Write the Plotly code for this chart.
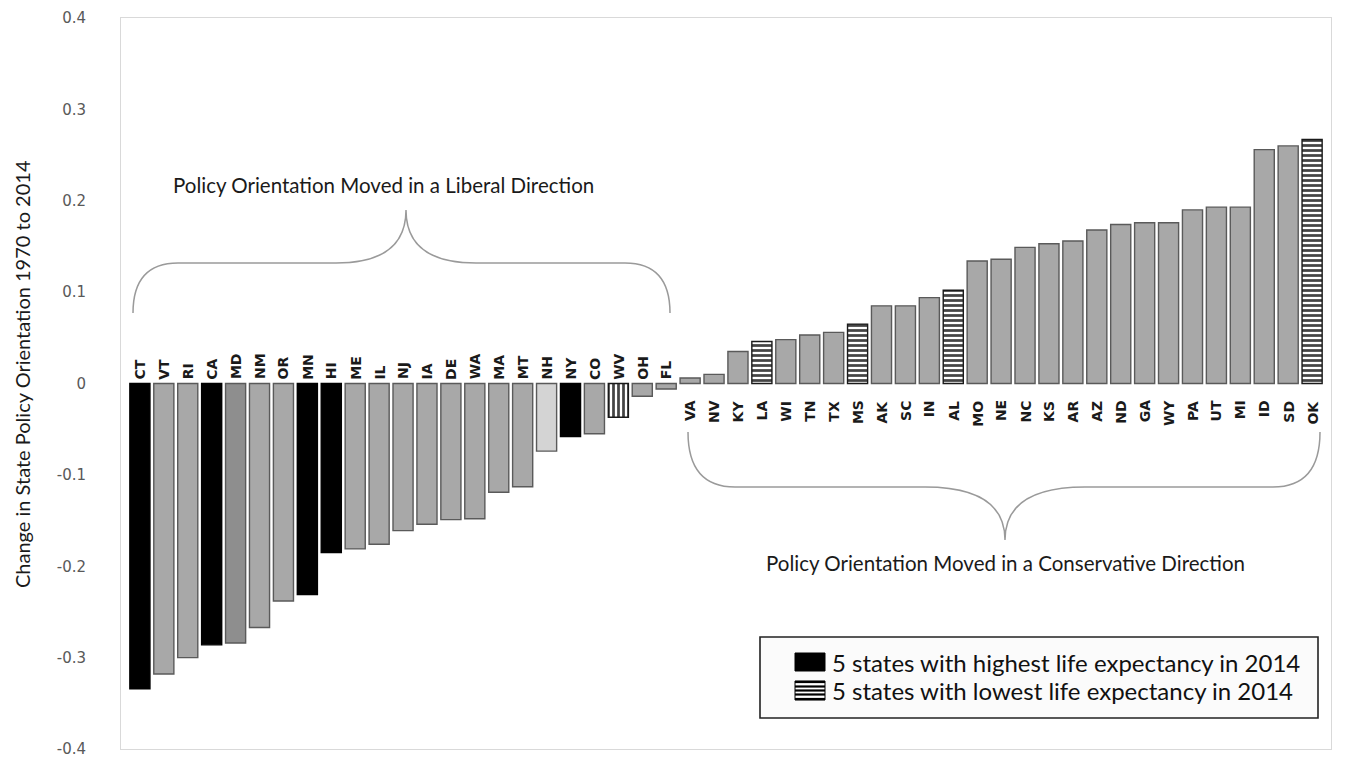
import plotly.graph_objects as go

# ---------------- data ----------------
states = ["CT", "VT", "RI", "CA", "MD", "NM", "OR", "MN", "HI", "ME", "IL", "NJ",
          "IA", "DE", "WA", "MA", "MT", "NH", "NY", "CO", "WV", "OH", "FL",
          "VA", "NV", "KY", "LA", "WI", "TN", "TX", "MS", "AK", "SC", "IN", "AL",
          "MO", "NE", "NC", "KS", "AR", "AZ", "ND", "GA", "WY", "PA", "UT", "MI",
          "ID", "SD", "OK"]
change = [-0.334, -0.318, -0.300, -0.286, -0.284, -0.267, -0.238, -0.231, -0.185,
          -0.181, -0.176, -0.161, -0.154, -0.149, -0.148, -0.119, -0.113, -0.074,
          -0.058, -0.055, -0.037, -0.014, -0.006,
          0.006, 0.010, 0.035, 0.046, 0.048, 0.053, 0.056, 0.065, 0.085, 0.085,
          0.094, 0.102, 0.134, 0.136, 0.149, 0.153, 0.156, 0.168, 0.174, 0.176,
          0.176, 0.190, 0.193, 0.193, 0.256, 0.260, 0.267]
highest_le = ["CT", "CA", "MN", "HI", "NY"]
lowest_le = ["WV", "LA", "MS", "AL", "OK"]
tick_vals = [0.4, 0.3, 0.2, 0.1, 0.0, -0.1, -0.2, -0.3, -0.4]
tick_text = ["0.4", "0.3", "0.2", "0.1", "0", "-0.1", "-0.2", "-0.3", "-0.4"]
y_title = "Change in State Policy Orientation 1970 to 2014"
liberal_label = "Policy Orientation Moved in a Liberal Direction"
conservative_label = "Policy Orientation Moved in a Conservative Direction"
legend_labels = ["5 states with highest life expectancy in 2014",
                 "5 states with lowest life expectancy in 2014"]

# ---------------- styling ----------------
W, H = 1349, 772
ML, MR, MT, MB = 121, 18, 18, 23
PW, PH = W - ML - MR, H - MT - MB

def px(x):
    return (x - ML) / PW

def py(y):
    return (H - MB - y) / PH

GREY = "#a8a8a8"
special_grey = {"MD": "#8e8e8e", "NH": "#d4d4d4"}
colors, lines, shapes_p = [], [], []
for s in states:
    if s in highest_le:
        colors.append("#000000"); lines.append("#000000"); shapes_p.append("")
    elif s in lowest_le:
        colors.append("#ffffff"); lines.append("#1a1a1a")
        shapes_p.append("|" if s == "WV" else "-")
    else:
        colors.append(special_grey.get(s, GREY)); lines.append("#5a5a5a"); shapes_p.append("")

fig = go.Figure()
fig.add_trace(go.Bar(
    x=states, y=change,
    marker=dict(color=colors, line=dict(color=lines, width=1.4),
                pattern=dict(shape=shapes_p, fgcolor="#000000", bgcolor="#f2f2f2",
                             fgopacity=1, size=5, solidity=0.55)),
    showlegend=False, hoverinfo="x+y",
))

annotations = []
for s, v in zip(states, change):
    annotations.append(dict(
        x=s, y=0, xref="x", yref="y", text="<b>" + s + "</b>", textangle=-90, showarrow=False,
        yanchor="bottom" if v < 0 else "top", yshift=2 if v < 0 else -15,
        font=dict(family="DejaVu Sans", size=14, color="#1a1a1a")))

lab_font = dict(family="Lato", size=20.5, color="#1a1a1a")
annotations.append(dict(x=px(383), y=py(185), xref="paper", yref="paper", text=liberal_label,
                        xanchor="center", yanchor="middle", showarrow=False, font=lab_font))
annotations.append(dict(x=px(1005), y=py(563), xref="paper", yref="paper", text=conservative_label,
                        xanchor="center", yanchor="middle", showarrow=False, font=lab_font))
annotations.append(dict(x=px(22), y=py(374), xref="paper", yref="paper", text=y_title,
                        textangle=-90, xanchor="center", yanchor="middle", showarrow=False,
                        font=dict(family="Lato", size=20, color="#1a1a1a")))

# legend (drawn by hand to match the swatches)
leg_font = dict(family="Lato", size=24, color="#111111")
annotations.append(dict(x=px(830), y=py(662), xref="paper", yref="paper", text=legend_labels[0],
                        xanchor="left", yanchor="middle", showarrow=False, font=leg_font))
annotations.append(dict(x=px(830), y=py(690), xref="paper", yref="paper", text=legend_labels[1],
                        xanchor="left", yanchor="middle", showarrow=False, font=leg_font))

def brace(x0, x1, xa, yt, yh, ya, r, r2):
    pts = [
        f"M {px(x0)},{py(yt)}",
        f"Q {px(x0)},{py(yh)} {px(x0 + r)},{py(yh)}",
        f"L {px(xa - r2)},{py(yh)}",
        f"Q {px(xa)},{py(yh)} {px(xa)},{py(ya)}",
        f"Q {px(xa)},{py(yh)} {px(xa + r2)},{py(yh)}",
        f"L {px(x1 - r)},{py(yh)}",
        f"Q {px(x1)},{py(yh)} {px(x1)},{py(yt)}",
    ]
    return " ".join(pts)

shapes = [
    dict(type="path", xref="paper", yref="paper",
         path=brace(133, 670, 406, 313, 263, 210, 45, 70),
         line=dict(color="#9a9a9a", width=1.5)),
    dict(type="path", xref="paper", yref="paper",
         path=brace(688, 1320, 1005, 432, 487, 540, 47, 80),
         line=dict(color="#9a9a9a", width=1.5)),
    # legend box
    dict(type="rect", xref="paper", yref="paper", x0=px(760), x1=px(1318), y0=py(718), y1=py(637),
         line=dict(color="#222222", width=1.6), fillcolor="#fbfbfb", layer="above"),
    dict(type="rect", xref="paper", yref="paper", x0=px(795), x1=px(825), y0=py(671), y1=py(653),
         line=dict(color="#000000", width=1), fillcolor="#000000", layer="above"),
    dict(type="rect", xref="paper", yref="paper", x0=px(795), x1=px(825), y0=py(700), y1=py(681),
         line=dict(color="#000000", width=1), fillcolor="#ffffff", layer="above"),
]
for yy in [682, 686.5, 690.5, 694.5, 699]:
    shapes.append(dict(type="line", xref="paper", yref="paper", x0=px(795), x1=px(825),
                       y0=py(yy), y1=py(yy), line=dict(color="#000000", width=2.2), layer="above"))

fig.update_layout(
    width=W, height=H,
    margin=dict(l=ML, r=MR, t=MT, b=MB, autoexpand=False),
    paper_bgcolor="white", plot_bgcolor="white",
    bargap=0.16,
    xaxis=dict(type="category", range=[-0.79, 49.79], showticklabels=False, ticks="",
               showgrid=False, zeroline=False, showline=True, mirror=True,
               linecolor="#d9d9d9", linewidth=1),
    yaxis=dict(range=[-0.4, 0.4], tickvals=tick_vals, ticktext=tick_text, ticks="",
               showgrid=False, zeroline=False, showline=True, mirror=True,
               linecolor="#d9d9d9", linewidth=1, ticklabelstandoff=31,
               tickfont=dict(family="DejaVu Sans", size=15, color="#595959")),
    annotations=annotations,
    shapes=shapes,
    font=dict(family="Lato"),
)

fig.write_html("out.html", config={"displayModeBar": False},
               post_script="document.body.style.margin='0';")
